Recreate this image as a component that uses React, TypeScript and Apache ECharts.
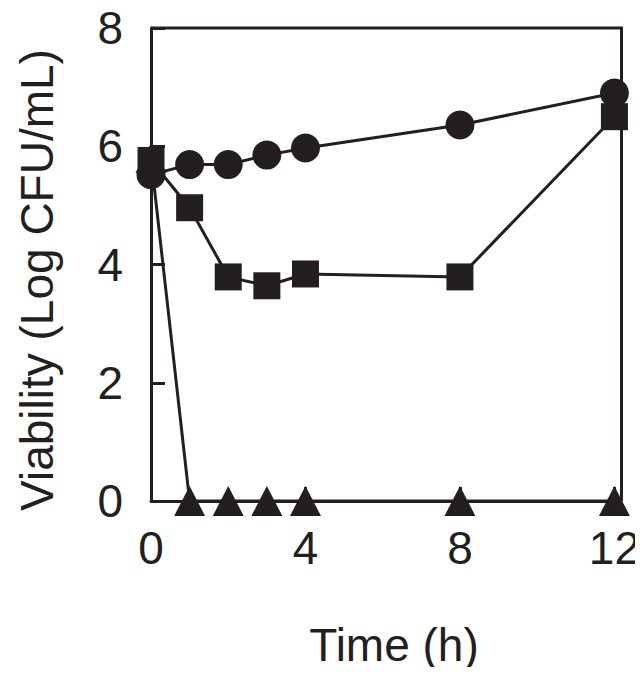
import React, { useEffect, useRef } from "react";
import * as echarts from "echarts";

const timeH = [0, 1, 2, 3, 4, 8, 12];
const circleSeries = [5.52, 5.69, 5.69, 5.85, 5.97, 6.36, 6.9];
const squareSeries = [5.76, 4.96, 3.79, 3.64, 3.84, 3.79, 6.5];
const triangleSeries = [5.8, 0, 0, 0, 0, 0, 0];
const xTicks = [0, 4, 8, 12];
const yTicks = [0, 2, 4, 6, 8];
const xTitle = "Time (h)";
const yTitle = "Viability (Log CFU/mL)";

const INK = "#231f20";
const FONT = "'Liberation Sans', Arial, Helvetica, sans-serif";

function pairs(vals: number[]) {
  return timeH.map((t, i) => [t, vals[i]]);
}

export default function App() {
  const ref = useRef<HTMLDivElement>(null);
  useEffect(() => {
    if (!ref.current) return;
    const chart = echarts.init(ref.current, undefined, { renderer: "svg" });
    const lineSeries = (data: number[][], symbol: string, size: any) => ({
      type: "line",
      data,
      symbol,
      symbolSize: size,
      showAllSymbol: true,
      lineStyle: { color: INK, width: 3 },
      itemStyle: { color: INK },
      emphasis: { disabled: true },
    });
    chart.setOption({
      animation: false,
      grid: {
        left: 151,
        right: 24,
        top: 28,
        bottom: 174,
        show: false,
      },
      xAxis: {
        type: "value",
        min: xTicks[0],
        max: xTicks[xTicks.length - 1],
        interval: 4,
        axisLine: { show: true, lineStyle: { color: INK, width: 3 } },
        axisTick: { show: true, inside: true, length: 14, lineStyle: { color: INK, width: 3 } },
        splitLine: { show: false },
        axisLabel: { color: INK, fontSize: 46, fontFamily: FONT, margin: 24 },
      },
      yAxis: {
        type: "value",
        min: yTicks[0],
        max: yTicks[yTicks.length - 1],
        interval: 2,
        axisLine: { show: true, lineStyle: { color: INK, width: 3 } },
        axisTick: { show: true, inside: true, length: 14, lineStyle: { color: INK, width: 3 } },
        splitLine: { show: false },
        axisLabel: { color: INK, fontSize: 46, fontFamily: FONT, margin: 28 },
      },
      graphic: [
        {
          type: "polyline",
          z: 1,
          shape: { points: [[151, 28], [621.5, 28], [621.5, 501]] },
          style: { stroke: INK, lineWidth: 3, fill: "none" },
        },
        {
          type: "text",
          x: 394,
          y: 645,
          style: {
            text: xTitle,
            fill: INK,
            font: `46px ${FONT}`,
            align: "center",
            verticalAlign: "middle",
          },
        },
        {
          type: "text",
          x: 37,
          y: 280,
          rotation: Math.PI / 2,
          style: {
            text: yTitle,
            fill: INK,
            font: `46px ${FONT}`,
            align: "center",
            verticalAlign: "middle",
          },
        },
      ],
      series: [
        lineSeries(pairs(triangleSeries), "triangle", [31, 30]),
        lineSeries(pairs(squareSeries), "rect", 27),
        lineSeries(pairs(circleSeries), "circle", 29),
      ],
    });
    return () => chart.dispose();
  }, []);
  return <div ref={ref} style={{ width: 643, height: 675, margin: -8 }} />;
}
